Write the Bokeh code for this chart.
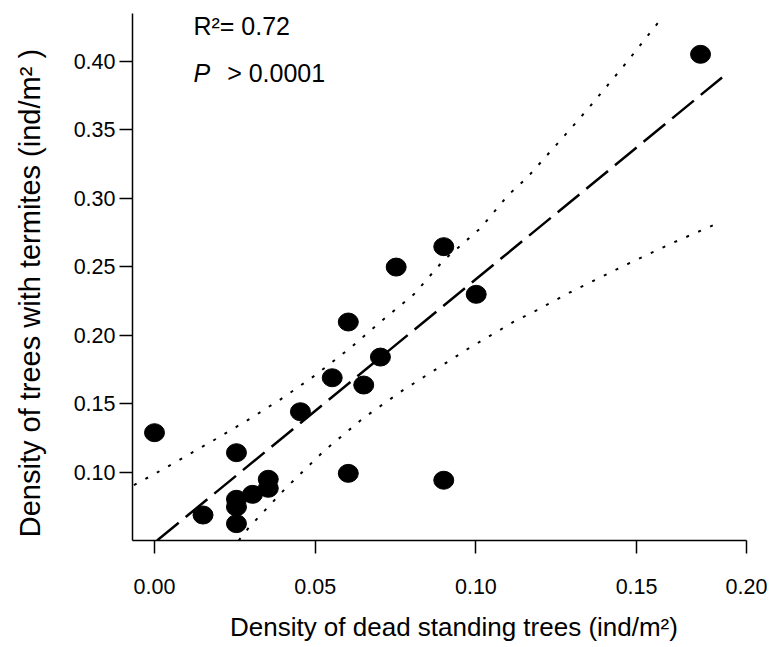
from bokeh.plotting import figure
from bokeh.models import FixedTicker, Label, Range1d
from bokeh.embed import file_html
from bokeh.resources import INLINE

# --- data ---
dead_trees = [0.0, 0.0151, 0.0255, 0.0255, 0.0255, 0.0255, 0.0305, 0.0354, 0.0354, 0.0454,
              0.0553, 0.0603, 0.0603, 0.0651, 0.0703, 0.0752, 0.090, 0.090, 0.1001, 0.1699]
termite_trees = [0.1287, 0.0686, 0.1141, 0.0801, 0.0745, 0.0623, 0.0837, 0.0947, 0.0881, 0.144,
                 0.1688, 0.2095, 0.099, 0.1635, 0.1839, 0.2496, 0.2645, 0.094, 0.2297, 0.4049]

fit_x = [0.0008, 0.1766]
fit_y = [0.05, 0.388]

upper_x = [-0.0064, 0.0, 0.010, 0.020, 0.030, 0.040, 0.050, 0.061, 0.070, 0.0807,
           0.090, 0.1014, 0.110, 0.116, 0.130, 0.1353, 0.146, 0.1566]
upper_y = [0.0905, 0.0985, 0.1118, 0.1253, 0.1393, 0.1542, 0.1706, 0.1907, 0.209, 0.2297,
           0.2547, 0.2779, 0.3020, 0.3150, 0.3520, 0.3663, 0.3964, 0.4277]

lower_x = [0.0262, 0.0293, 0.0351, 0.0408, 0.0527, 0.0651, 0.0775, 0.090, 0.0973, 0.1118,
           0.119, 0.1300, 0.1455, 0.1610, 0.1763]
lower_y = [0.050, 0.0593, 0.0739, 0.0881, 0.1153, 0.1396, 0.1600, 0.1786, 0.1896, 0.2097,
           0.2182, 0.2320, 0.2499, 0.2670, 0.2827]

x_tick_values = [0.0, 0.05, 0.10, 0.15, 0.1842]
x_tick_labels = ["0.00", "0.05", "0.10", "0.15", "0.20"]
y_tick_values = [0.10, 0.15, 0.20, 0.25, 0.30, 0.35, 0.40]
y_tick_labels = ["0.10", "0.15", "0.20", "0.25", "0.30", "0.35", "0.40"]

x_title = "Density of dead standing trees (ind/m²)"
y_title = "Density of trees with termites (ind/m² )"
r2_text = "R²= 0.72"
p_text = "P"
p_value_text = "> 0.0001"

FONT = "Liberation Sans"
PAD = "\u00a0" * 4  # shifts the centred axis titles like in the reference

p = figure(width=778, height=647, output_backend="svg", toolbar_location=None,
           x_range=Range1d(-0.006845, 0.1842), y_range=Range1d(0.05, 0.4347),
           min_border_left=132, min_border_right=32, min_border_top=13, min_border_bottom=107)
p.outline_line_color = None
p.grid.visible = False
p.background_fill_color = "white"

# axes
p.xaxis.ticker = FixedTicker(ticks=x_tick_values)
p.xaxis.major_label_overrides = {v: l for v, l in zip(x_tick_values, x_tick_labels)}
p.yaxis.ticker = FixedTicker(ticks=y_tick_values)
p.yaxis.major_label_overrides = {v: l for v, l in zip(y_tick_values, y_tick_labels)}
for ax in (p.xaxis, p.yaxis):
    ax.axis_line_color = "black"
    ax.axis_line_width = 1.5
    ax.major_tick_line_color = "black"
    ax.major_tick_line_width = 1.5
    ax.major_tick_in = 0
    ax.major_tick_out = 13
    ax.minor_tick_line_color = None
    ax.major_label_text_font = FONT
    ax.major_label_text_font_size = "21.5px"
    ax.major_label_text_color = "black"
    ax.axis_label_text_font = FONT
    ax.axis_label_text_font_style = "normal"
    ax.axis_label_text_color = "black"

p.xaxis.axis_label = PAD + x_title
p.xaxis.axis_label_text_font_size = "26px"
p.xaxis.major_label_standoff = 25
p.xaxis.axis_label_standoff = 15

p.yaxis.axis_label = y_title + PAD
p.yaxis.axis_label_text_font_size = "29px"
p.yaxis.major_label_standoff = 4
p.yaxis.axis_label_standoff = 25

# confidence bands and fit
p.line(upper_x, upper_y, line_color="black", line_width=2, line_dash="3 10")
p.line(lower_x, lower_y, line_color="black", line_width=2, line_dash="3 10")
p.line(fit_x, fit_y, line_color="black", line_width=2.5, line_dash="28 9")

# points
p.ellipse(x=dead_trees, y=termite_trees, width=20, height=18,
          width_units="screen", height_units="screen",
          fill_color="black", line_color="black")

# annotations
p.add_layout(Label(x=0.0121, y=0.4255, text=r2_text, text_font=FONT,
                   text_font_size="25px", text_baseline="middle", text_color="black"))
p.add_layout(Label(x=0.0121, y=0.3915, text=p_text, text_font=FONT, text_font_style="italic",
                   text_font_size="25px", text_baseline="middle", text_color="black"))
p.add_layout(Label(x=0.0226, y=0.3915, text=p_value_text, text_font=FONT,
                   text_font_size="25px", text_baseline="middle", text_color="black"))

open("out.html", "w").write(file_html(p, INLINE))
